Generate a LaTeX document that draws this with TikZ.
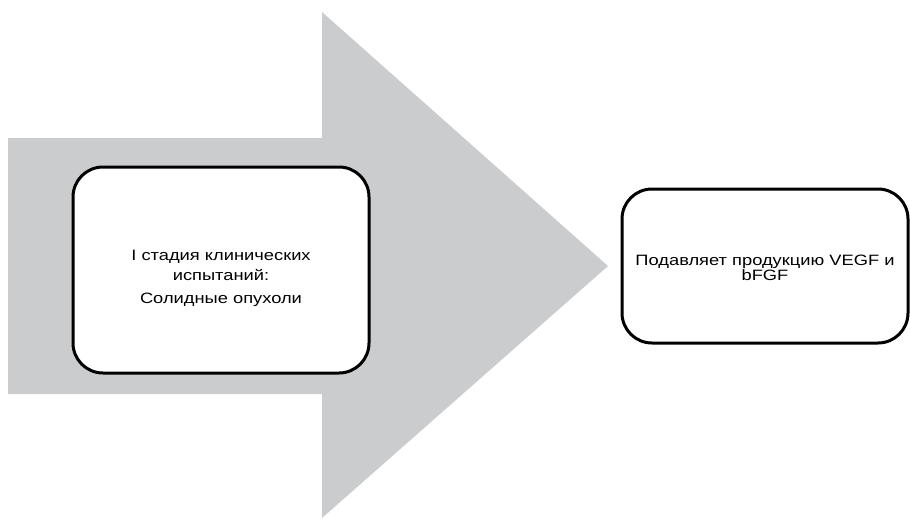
\documentclass[tikz,border=0pt]{standalone}
\usepackage{fontspec}
\setmainfont{Liberation Sans}
\newfontfamily\widefont[FakeStretch=1.22]{Liberation Sans}
\definecolor{arrowgray}{RGB}{203,204,206}

\begin{document}
\begin{tikzpicture}[x = 1pt, y = -1pt,
	stagebox/.style = {draw = black, line width = 3pt, fill = white, rounded corners = 30pt, inner sep = 0pt},
	boxtext/.style = {align = center, inner sep = 0pt, anchor = base}]
	\useasboundingbox (0,0) rectangle (910,519);
	
	% big arrow behind the boxes
	\fill[arrowgray] (8,138) -- (322,138) -- (322,12) -- (608,266) -- (322,518) -- (322,394) -- (8,394) -- cycle;
	
	\node[stagebox, minimum width = 296pt, minimum height = 206pt] (trial) at (221,270) {};
	\node[stagebox, minimum width = 286pt, minimum height = 154pt] (effect) at (765,266) {};
	
	% base anchor sits on the last line
	\node[boxtext, font = \widefont\fontsize{15}{20.5}\selectfont] (trialtext) at (221,303) {I стадия клинических\\испытаний:\\[2pt]Солидные опухоли};
	\node[boxtext, font = \widefont\fontsize{15}{14.5}\selectfont] (effecttext) at (765,280) {Подавляет продукцию VEGF и\\bFGF};
	
\end{tikzpicture}
\end{document}
